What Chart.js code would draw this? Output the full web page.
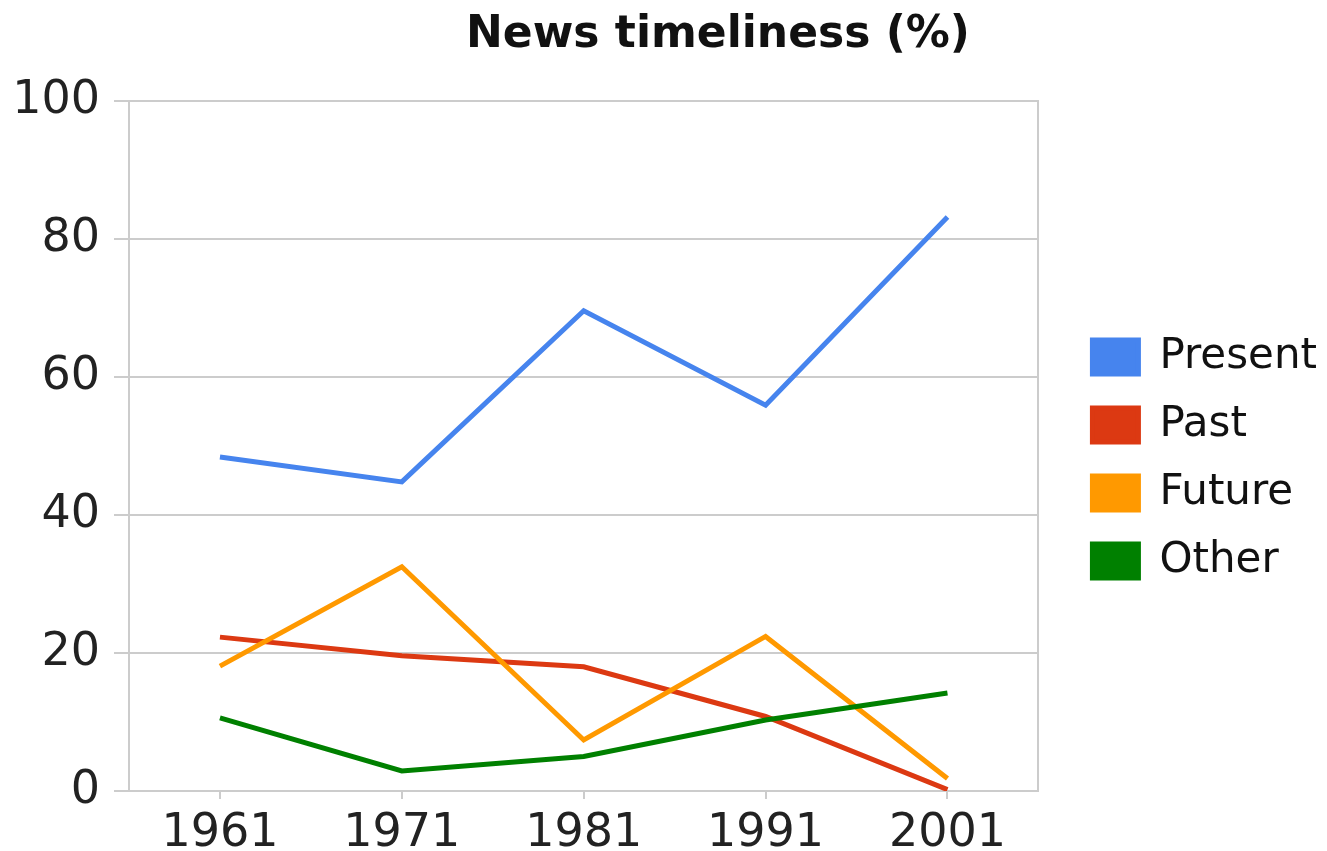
<!DOCTYPE html>
<html>
<head>
<meta charset="utf-8">
<script src="https://cdn.jsdelivr.net/npm/chart.js@4.4.0/dist/chart.umd.min.js"></script>
<style>
  html, body { margin: 0; padding: 0; background: #fff; }
  #wrap { width: 1327px; height: 851px; }
</style>
</head>
<body>
<div id="wrap"><canvas id="myChart" width="1327" height="851"></canvas></div>
<script>
const years = ['1961', '1971', '1981', '1991', '2001'];
const present = [48.4, 44.8, 69.6, 55.9, 83.2];
const past = [22.3, 19.6, 18.0, 10.8, 0.2];
const future = [18.1, 32.5, 7.4, 22.4, 1.8];
const other = [10.6, 2.9, 5.0, 10.3, 14.2];
const yTicks = [0, 20, 40, 60, 80, 100];

const FONT = '"DejaVu Sans", sans-serif';
const GRID = '#cccccc';

// title sits off-centre in the original, so draw it by hand
const titlePlugin = {
    id: 'offTitle',
    afterDraw(chart) {
        const ctx = chart.ctx;
        ctx.save();
        ctx.font = 'bold 44px ' + FONT;
        ctx.fillStyle = '#111';
        ctx.textAlign = 'center';
        ctx.textBaseline = 'middle';
        ctx.fillText('News timeliness (%)', 718, 36);
        ctx.restore();
    }
};

function line(label, data, color, order) {
    return {
        label: label,
        data: data,
        borderColor: color,
        backgroundColor: color,
        borderWidth: 5,
        pointRadius: 0,
        tension: 0,
        fill: false,
        order: order
    };
}

new Chart(document.getElementById('myChart'), {
    type: 'line',
    data: {
        labels: years,
        datasets: [
            line('Present', present, '#4684ee', 3),
            line('Past', past, '#dc3912', 2),
            line('Future', future, '#ff9900', 1),
            line('Other', other, '#008000', 0)
        ]
    },
    options: {
        responsive: false,
        animation: false,
        layout: { padding: { top: 67, left: 0, right: 0, bottom: 0 } },
        plugins: {
            // blank spacer: keeps the plot top where the original has it
            title: {
                display: true,
                text: ' ',
                padding: 0,
                font: { size: 34, lineHeight: 1 }
            },
            tooltip: { enabled: false },
            legend: {
                display: true,
                position: 'right',
                maxWidth: 320,
                labels: {
                    boxWidth: 46,
                    boxHeight: 34,
                    padding: 26,
                    color: '#111',
                    font: { family: FONT, size: 42 },
                    sort: (a, b) => a.datasetIndex - b.datasetIndex
                }
            }
        },
        scales: {
            x: {
                offset: true,
                afterFit: axis => { axis.height = 60; },
                grid: {
                    display: true,
                    drawOnChartArea: false,
                    drawTicks: true,
                    tickLength: 8,
                    color: GRID,
                    lineWidth: 2
                },
                border: { display: true, color: GRID, width: 2 },
                ticks: {
                    color: '#222',
                    padding: 12,
                    maxRotation: 0,
                    font: { family: FONT, size: 46, lineHeight: 1 }
                }
            },
            y: {
                min: 0,
                max: 100,
                afterFit: axis => { axis.width = 129; },
                afterBuildTicks: axis => { axis.ticks = yTicks.map(v => ({ value: v })); },
                grid: { color: GRID, lineWidth: 2, tickLength: 15 },
                border: { display: true, color: GRID, width: 2 },
                ticks: {
                    color: '#222',
                    padding: 14,
                    font: { family: FONT, size: 46, lineHeight: 1 }
                }
            },
            y2: {
                position: 'right',
                min: 0,
                max: 100,
                grid: { display: false },
                border: { display: true, color: GRID, width: 2 },
                ticks: { display: false },
                afterFit: axis => { axis.width = 28; }
            }
        }
    },
    plugins: [titlePlugin]
});
</script>
</body>
</html>
